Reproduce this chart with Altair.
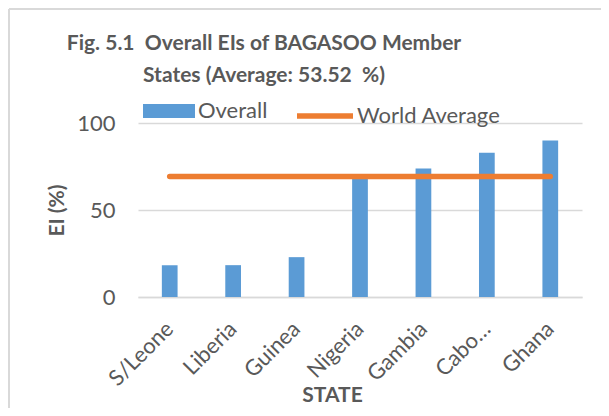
import altair as alt
import pandas as pd

states = ["S/Leone", "Liberia", "Guinea", "Nigeria", "Gambia", "Cabo Verde", "Ghana"]
overall = [18.3, 18.3, 22.9, 68.3, 73.9, 82.9, 90.0]
world_average = [69.2] * 7
y_ticks = [0, 50, 100]

TEXT = "#595959"
BLUE = "#5B9BD5"
ORANGE = "#ED7D31"
GRID = "#D9D9D9"
FONT = "Lato"
FS = 22

df = pd.DataFrame({"STATE": states, "Overall": overall, "World Average": world_average,
                   "s1": ["Overall"] * 7, "s2": ["World Average"] * 7})

x_enc = alt.X("STATE:N", sort=states,
              scale=alt.Scale(paddingInner=0.752, paddingOuter=0.376),
              axis=alt.Axis(title="STATE", labelAngle=-45, labelAlign="right", labelBaseline="middle",
                            labelPadding=28, ticks=False, domainColor=GRID, domainWidth=1.5,
                            labelFontSize=FS, labelColor=TEXT, labelFont=FONT,
                            labelExpr="datum.value == 'Cabo Verde' ? 'Cabo…' : datum.value",
                            titleFontSize=21, titleFont=FONT, titleColor=TEXT, titleFontWeight="bold",
                            titleX=194, titleY=98, titleBaseline="middle"))

bars = alt.Chart(df).mark_bar(color=BLUE).encode(
    x=x_enc,
    y=alt.Y("Overall:Q", scale=alt.Scale(domain=[0, 100]),
            axis=alt.Axis(title="EI (%)", values=y_ticks, ticks=False, domain=False,
                          gridColor=GRID, gridWidth=1.5, labelPadding=23,
                          labelFontSize=FS, labelColor=TEXT, labelFont=FONT,
                          titleFontSize=21, titleFont=FONT, titleColor=TEXT, titleFontWeight="bold",
                          titleX=-81, titleY=87, titleBaseline="middle", titleAngle=-90)),
    fill=alt.Fill("s1:N", scale=alt.Scale(range=[BLUE]),
                  legend=alt.Legend(title=None, orient="none", legendX=5, legendY=-38,
                                    symbolType="M-1,-0.27L1,-0.27L1,0.27L-1,0.27Z",
                                    symbolSize=2704, symbolStrokeWidth=0, labelOffset=3,
                                    labelFontSize=FS, labelColor=TEXT, labelFont=FONT, padding=0)),
)

line = alt.Chart(df).mark_line(strokeWidth=5.5, strokeCap="round").encode(
    x=alt.X("STATE:N", sort=states),
    y=alt.Y("World Average:Q"),
    stroke=alt.Stroke("s2:N", scale=alt.Scale(range=[ORANGE]),
                      legend=alt.Legend(title=None, orient="none", legendX=156, legendY=-38,
                                        symbolType="M-1,0L1,0", symbolSize=3136,
                                        symbolStrokeWidth=5.5, labelOffset=1,
                                        labelFontSize=FS, labelColor=TEXT, labelFont=FONT, padding=0)),
)

border_df = pd.DataFrame({"k": [0]})
left_border = alt.Chart(border_df).mark_rule(color=GRID, strokeWidth=2).encode(
    x=alt.value(-129), y=alt.value(-114), y2=alt.value(290))
top_border = alt.Chart(border_df).mark_rule(color=GRID, strokeWidth=2).encode(
    x=alt.value(-129), x2=alt.value(470), y=alt.value(-114))

chart = alt.layer(left_border, top_border, bars, line).resolve_scale(fill="independent", stroke="independent").properties(
    width=444, height=174,
    autosize=alt.AutoSizeParams(type="none"),
    padding={"left": 130, "top": 115, "right": 19, "bottom": 111},
    title=alt.TitleParams(["Fig. 5.1\u00a0 Overall EIs of BAGASOO Member", "States (Average: 53.52\u00a0 %)"],
                          fontSize=21, font=FONT, fontWeight="bold", color=TEXT,
                          anchor="middle", dx=-96, dy=78, lineHeight=32, offset=0),
).configure_view(stroke=None)

chart.save("out.html", embed_options={"renderer": "svg", "actions": False})
